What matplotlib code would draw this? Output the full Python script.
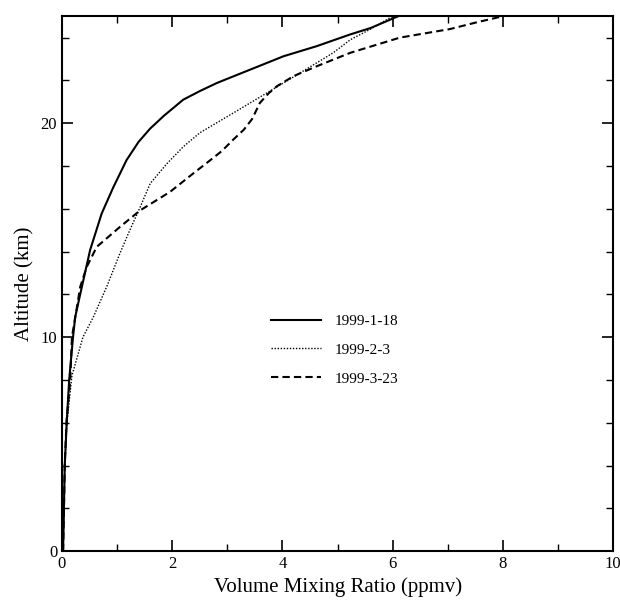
import numpy as np
import matplotlib
matplotlib.use("Agg")
import matplotlib.pyplot as plt
from matplotlib.ticker import MultipleLocator

plt.rcParams['font.family'] = ['Liberation Serif', 'DejaVu Serif']

# 1999-1-18 (solid)
jan_x = [0.02, 0.05, 0.085, 0.13, 0.2, 0.24, 0.36, 0.51, 0.72, 0.93, 1.17, 1.39, 1.6, 1.85,
         2.2, 2.5, 2.81, 3.41, 4.02, 4.62, 5.23, 5.6, 6.1]
jan_y = [0.0, 4.0, 6.0, 8.0, 10.0, 10.95, 12.35, 14.07, 15.78, 17.0, 18.27, 19.13, 19.75, 20.35,
         21.1, 21.5, 21.88, 22.5, 23.13, 23.6, 24.15, 24.45, 25.0]

# 1999-2-3 (dotted)
feb_x = [0.02, 0.05, 0.09, 0.18, 0.38, 0.57, 0.81, 1.05, 1.23, 1.42, 1.6, 1.9, 2.2, 2.5,
         3.11, 3.72, 4.32, 4.92, 5.23, 5.6, 6.0]
feb_y = [0.0, 4.0, 6.0, 8.2, 10.0, 10.95, 12.35, 13.91, 15.0, 16.09, 17.18, 18.1, 18.9, 19.55,
         20.48, 21.42, 22.35, 23.29, 23.9, 24.4, 25.0]

# 1999-3-23 (dashed)
mar_x = [0.02, 0.05, 0.08, 0.15, 0.18, 0.29, 0.33, 0.45, 0.63, 1.05, 1.42, 1.96, 2.38, 2.63,
         2.9, 3.11, 3.3, 3.45, 3.59, 3.75, 3.9, 4.2, 4.62, 5.23, 6.13, 7.04, 7.5, 8.0]
mar_y = [0.0, 4.0, 6.0, 8.0, 10.0, 11.7, 12.35, 13.29, 14.22, 15.15, 15.93, 16.79, 17.65, 18.15,
         18.7, 19.24, 19.7, 20.2, 20.95, 21.4, 21.73, 22.2, 22.66, 23.29, 24.0, 24.4, 24.7, 25.0]

labels = ['1999-1-18', '1999-2-3', '1999-3-23']

fig = plt.figure(figsize=(6.2, 6.01), dpi=100)
ax = fig.add_axes([0.1, 0.083, 0.889, 0.89])

ax.plot(jan_x, jan_y, color='black', linestyle='-', linewidth=1.5, label=labels[0])
ax.plot(feb_x, feb_y, color='black', linestyle=(0, (1, 1.2)), linewidth=1.0, label=labels[1])
ax.plot(mar_x, mar_y, color='black', linestyle=(0, (3.5, 2)), linewidth=1.5, label=labels[2])

ax.set_xlim(0, 10)
ax.set_ylim(0, 25)
ax.xaxis.set_major_locator(MultipleLocator(2))
ax.xaxis.set_minor_locator(MultipleLocator(1))
ax.yaxis.set_major_locator(MultipleLocator(10))
ax.yaxis.set_minor_locator(MultipleLocator(2))
ax.tick_params(which='both', direction='in', top=True, right=True, labelsize=12)
ax.tick_params(which='major', length=8, width=1.2)
ax.tick_params(which='minor', length=5, width=1.0)
for s in ax.spines.values():
    s.set_linewidth(1.5)

ax.set_xlabel('Volume Mixing Ratio (ppmv)', fontsize=15, labelpad=4)
ax.set_ylabel('Altitude (km)', fontsize=15, labelpad=4)

ax.legend(loc='center left', bbox_to_anchor=(0.365, 0.376), frameon=False, fontsize=11,
          borderpad=0, handlelength=3.3, handletextpad=0.9, labelspacing=1.0)

fig.savefig('out.png', dpi=100)
